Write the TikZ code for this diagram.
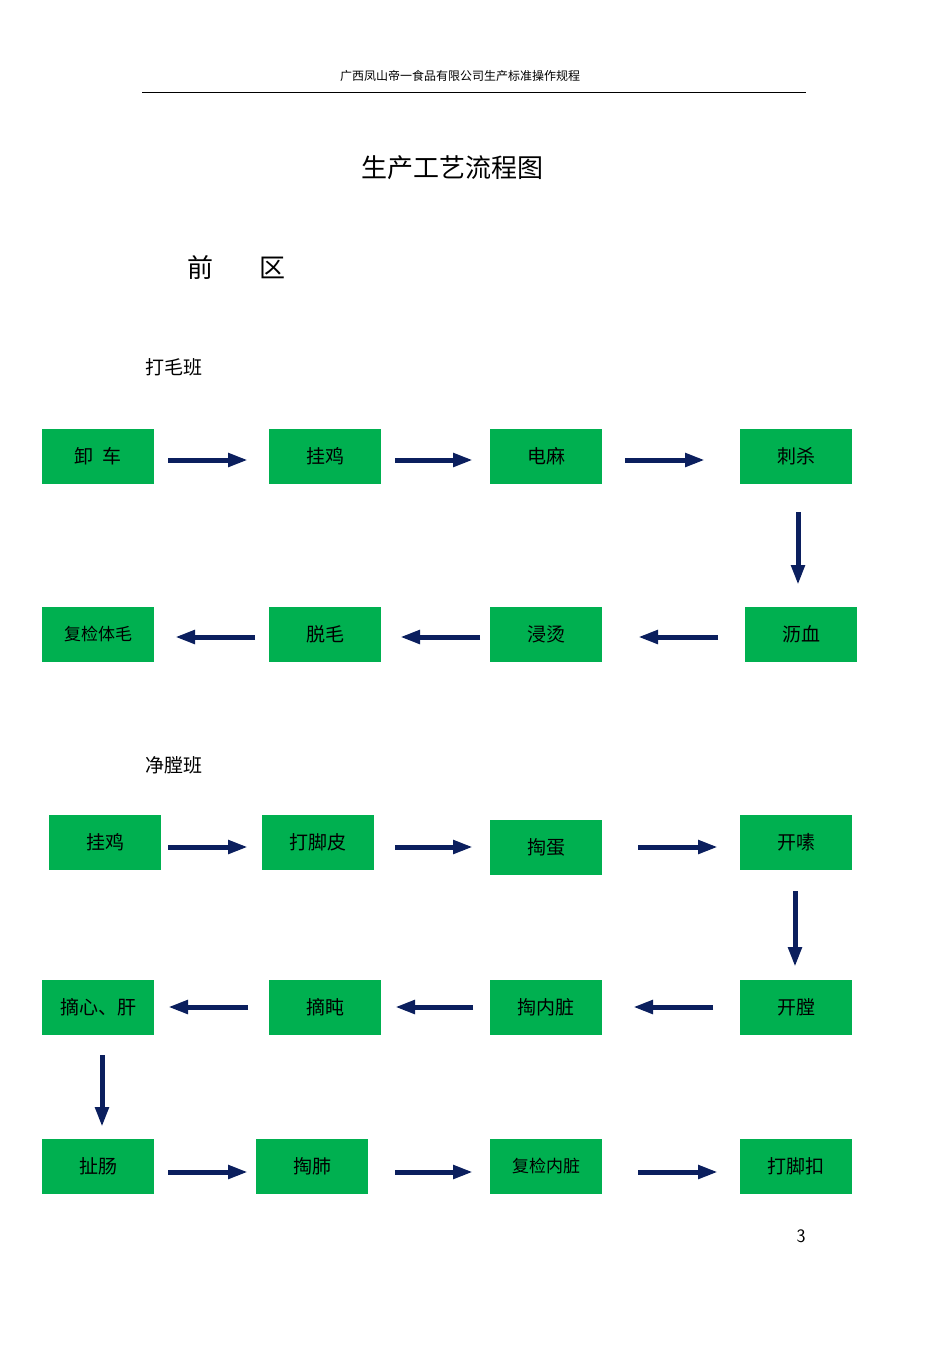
\documentclass[tikz,border=0pt]{standalone}
\usepackage{fontspec}
\newfontfamily\cjk{Noto Sans CJK SC}
\usetikzlibrary{arrows.meta}
\definecolor{boxg}{HTML}{00B050}
\definecolor{navy}{HTML}{0B1F5E}
\tikzset{
 box/.style={draw=none,fill=boxg,minimum width=112pt,minimum height=55pt,inner sep=0pt,font=\cjk\fontsize{19pt}{19pt}\selectfont,
   path picture={}, },
 flow/.style={navy,line width=5pt,-{Triangle[length=20pt,width=13pt]}},
}
\newcommand{\bx}[4]{% name, cx, cy, text
 \fill[gray!60] (#2+3pt,#3-3pt) ++(-56pt,-27.5pt) rectangle ++(112pt,55pt);
 \node[box] (#1) at (#2,#3) {#4};}
\begin{document}
\begin{tikzpicture}[x=1pt,y=-1pt]
\useasboundingbox (0,0) rectangle (950,1345);
\node[font=\cjk\fontsize{12pt}{12pt}\selectfont] (hd) at (460,76) {广西凤山帝一食品有限公司生产标准操作规程};
\coordinate (l1) at (142,92); \coordinate (l2) at (806,92);
\draw[line width=0.8pt] (l1) -- (l2);
\node[font=\cjk\fontsize{26pt}{26pt}\selectfont] (tt) at (452,168) {生产工艺流程图};
\node[font=\cjk\fontsize{26pt}{26pt}\selectfont] (q) at (200,268) {前};
\node[font=\cjk\fontsize{26pt}{26pt}\selectfont] (qu) at (272,268) {区};
\node[font=\cjk\fontsize{19pt}{19pt}\selectfont,anchor=west] (s1) at (142,367) {打毛班};
\node[font=\cjk\fontsize{19pt}{19pt}\selectfont,anchor=west] (s2) at (142,765) {净膛班};
\node[font=\fontsize{19pt}{19pt}\selectfont\sffamily] (pg) at (801,1236) {3};

\bx{a1}{98}{456}{卸\ \ 车}
\bx{a2}{325}{456}{挂鸡}
\bx{a3}{546}{456}{电麻}
\bx{a4}{796}{456}{刺杀}
\bx{b1}{98}{634}{\fontsize{17pt}{17pt}\selectfont 复检体毛}
\bx{b2}{325}{634}{脱毛}
\bx{b3}{546}{634}{浸烫}
\bx{b4}{801}{634}{沥血}
\bx{c1}{105}{842}{挂鸡}
\bx{c2}{318}{842}{打脚皮}
\bx{c3}{546}{847}{掏蛋}
\bx{c4}{796}{842}{开嗉}
\bx{d1}{98}{1007}{摘心、肝}
\bx{d2}{325}{1007}{摘盹}
\bx{d3}{546}{1007}{掏内脏}
\bx{d4}{796}{1007}{开膛}
\bx{e1}{98}{1166}{扯肠}
\bx{e2}{312}{1166}{掏肺}
\bx{e3}{546}{1166}{\fontsize{17pt}{17pt}\selectfont 复检内脏}
\bx{e4}{796}{1166}{打脚扣}

\draw[flow] (168,460) -- (248,460);
\draw[flow] (395,460) -- (473,460);
\draw[flow] (625,460) -- (705,460);
\draw[flow] (798,512) -- (798,585);
\draw[flow] (255,637) -- (175,637);
\draw[flow] (480,637) -- (400,637);
\draw[flow] (718,637) -- (638,637);
\draw[flow] (168,847) -- (248,847);
\draw[flow] (395,847) -- (473,847);
\draw[flow] (638,847) -- (718,847);
\draw[flow] (795,891) -- (795,967);
\draw[flow] (248,1007) -- (168,1007);
\draw[flow] (473,1007) -- (395,1007);
\draw[flow] (713,1007) -- (633,1007);
\draw[flow] (102,1055) -- (102,1127);
\draw[flow] (168,1172) -- (248,1172);
\draw[flow] (395,1172) -- (473,1172);
\draw[flow] (638,1172) -- (718,1172);
\end{tikzpicture}
\end{document}
